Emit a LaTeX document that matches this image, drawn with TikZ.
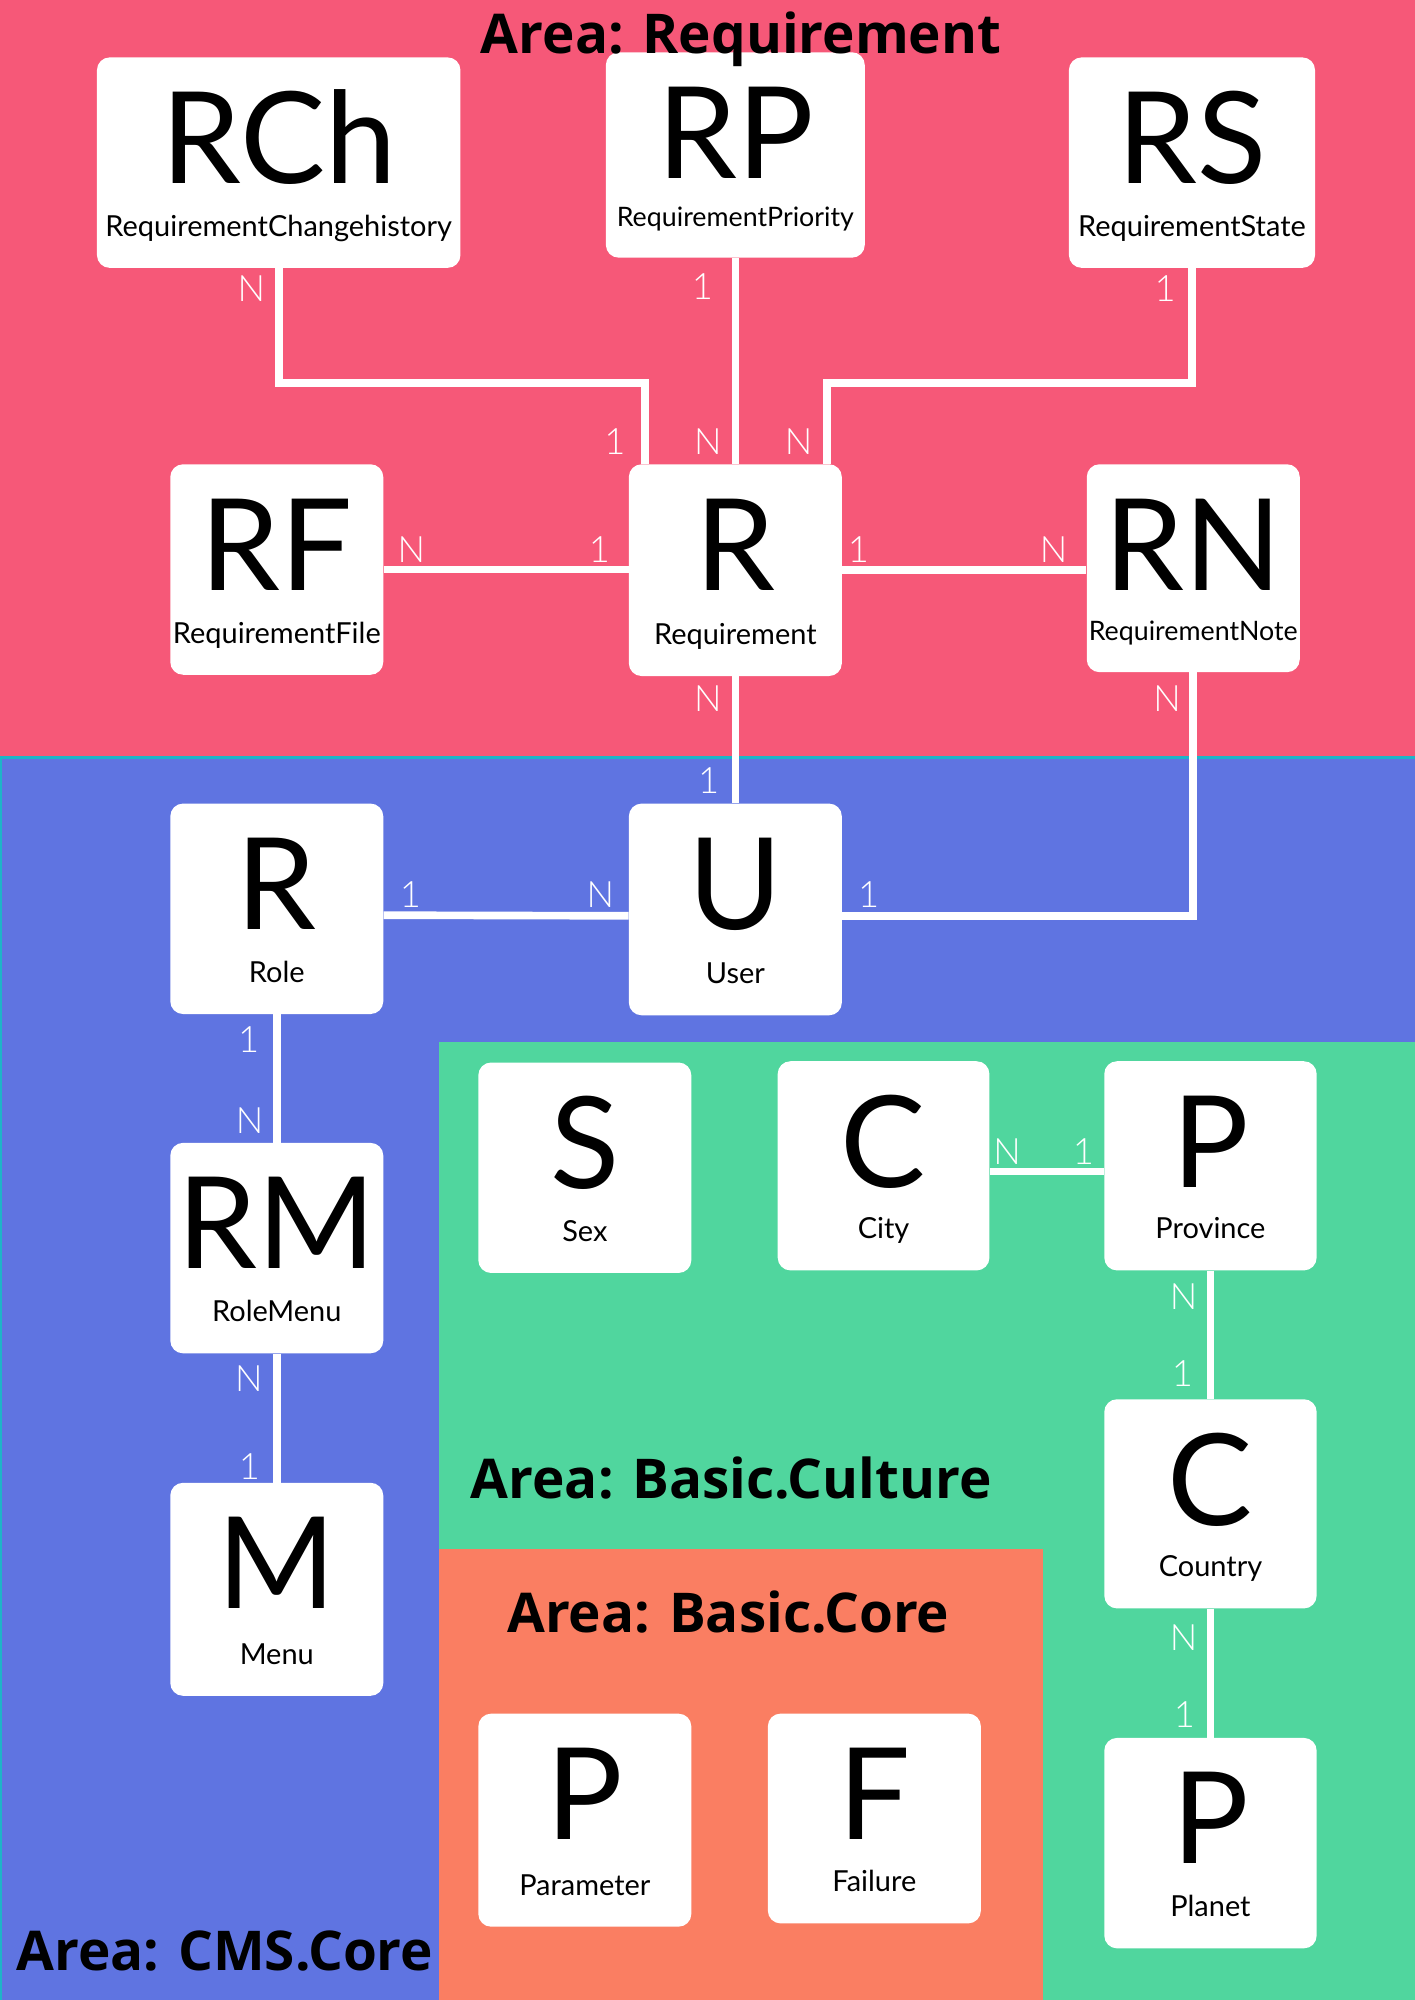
\documentclass[tikz,border=0pt]{standalone}
\usepackage{fontspec}
\setmainfont{Lato}
\newfontfamily\titlefont{Open Sans}
\IfFontExistsTF{Lato Light}{\newfontfamily\cardfont{Lato Light}}{\newfontfamily\cardfont{Lato}}
\definecolor{reqred}{HTML}{F65878}
\definecolor{cmsblue}{HTML}{5F74E1}
\definecolor{culturegreen}{HTML}{50D69E}
\definecolor{coreorange}{HTML}{FA7E62}
\definecolor{edgecyan}{HTML}{1EB4C8}
% entity box: [label size], name, x, y, width, height, short, long
\newcommand{\erbox}[8][22.7]{%
  \node[entity, minimum width=#5pt, minimum height=#6pt] (#2) at (#3,#4) {};
  \node[abbr] (#2-abbr) at ([yshift=-99pt]#2.north) {#7};
  \node[fullname, font=\fontsize{#1}{#1}\selectfont] (#2-name) at ([yshift=25pt]#2.south) {#8};}

\begin{document}
\begin{tikzpicture}[x=1pt, y=-1pt,
    entity/.style={rectangle, fill=white, rounded corners=10pt, inner sep=0pt},
    abbr/.style={anchor=base, inner sep=0pt, font=\fontsize{100}{100}\selectfont},
    fullname/.style={anchor=base, inner sep=0pt},
    conn/.style={draw=white, line width=6pt},
    card/.style={text=white, inner sep=0pt, font=\cardfont\fontsize{28.5}{28.5}\selectfont},
    area/.style={anchor=base, inner sep=0pt, font=\titlefont\bfseries\fontsize{43}{43}\selectfont}]
    \useasboundingbox (0,0) rectangle (1109,1568);
    %
    \fill[reqred] (0,0) rectangle (1109,594);
    \filldraw[fill=cmsblue, draw=edgecyan, line width=2pt] (0.5,594) rectangle (1112,1572);
    \fill[culturegreen] (344.4,817) rectangle (1109,1568);
    \fill[coreorange] (344.4,1214.5) rectangle (818,1568);
    %
    \erbox{rch}{218.5}{127.5}{285}{165}{RCh}{RequirementChangehistory}
    \erbox[21]{rp}{576.5}{121.5}{203}{161}{RP}{RequirementPriority}
    \erbox{rs}{934.5}{127.5}{193}{165}{RS}{RequirementState}
    \erbox{rf}{217}{446.5}{167}{165}{RF}{RequirementFile}
    \erbox{req}{576.5}{447}{167}{166}{R}{Requirement}
    \erbox[21]{rn}{935.5}{445.5}{167}{163}{RN}{RequirementNote}
    %
    \erbox{role}{217}{712.5}{167}{165}{R}{Role}
    \erbox{user}{576.5}{713}{167}{166}{U}{User}
    \erbox{rm}{217}{978.5}{167}{165}{RM}{RoleMenu}
    \erbox{menu}{217}{1246}{167}{167}{M}{Menu}
    %
    \erbox{sex}{458.5}{915.5}{167}{165}{S}{Sex}
    \erbox{city}{692.7}{914}{166}{164}{C}{City}
    \erbox{prov}{949}{914}{166.5}{164}{P}{Province}
    \erbox{country}{949}{1179}{166.5}{164}{C}{Country}
    \erbox{planet}{949}{1445}{166.5}{165}{P}{Planet}
    %
    \erbox{param}{458.5}{1427}{167}{167}{P}{Parameter}
    \erbox{failure}{685.5}{1425.7}{167}{164.5}{F}{Failure}
    %
    \coordinate (rch-bend) at (505.7,300.5);
    \coordinate (rs-bend) at (648.6,300.5);
    \draw[conn] (rch.south) |- (rch-bend) -- (rch-bend |- req.north);
    \draw[conn] (rp.south) -- (req.north);
    \draw[conn] (rs.south) |- (rs-bend) -- (rs-bend |- req.north);
    \draw[conn] (rf.east) -- (rf.east -| req.west);
    \draw[conn] (req.east) -- (req.east -| rn.west);
    \draw[conn] (req.south) -- (user.north);
    \draw[conn] (rn.south) |- ([yshift=-5pt]user.east);
    \draw[conn] ([yshift=-5pt]role.east) -- ([yshift=-5pt]user.west);
    \draw[conn] (role.south) -- (rm.north);
    \draw[conn] (rm.south) -- (menu.north);
    \draw[conn] ([yshift=-4.5pt]city.east) -- ([yshift=-4.5pt]prov.west);
    \draw[conn] (prov.south) -- (country.north);
    \draw[conn] (country.south) -- (planet.north);
    %
    \node[card] (rch-card) at (197,226) {N};
    \node[card] (rp-card) at (550.6,224.4) {1};
    \node[card] (rs-card) at (913.5,226) {1};
    \node[card] (req-card-a) at (482,346) {1};
    \node[card] (req-card-b) at (555,346) {N};
    \node[card] (req-card-c) at (626,346) {N};
    \node[card] (rf-card) at (322.5,431) {N};
    \node[card] (req-card-d) at (470,431) {1};
    \node[card] (req-card-e) at (673,431) {1};
    \node[card] (rn-card) at (826,431) {N};
    \node[card] (req-card-f) at (555,548) {N};
    \node[card] (user-card-a) at (555.6,612) {1};
    \node[card] (rn-card-b) at (915,548) {N};
    \node[card] (user-card-b) at (681,701) {1};
    \node[card] (role-card-a) at (321.8,701) {1};
    \node[card] (user-card-c) at (470.6,701) {N};
    \node[card] (role-card-b) at (195,815) {1};
    \node[card] (rm-card-a) at (195.6,878.5) {N};
    \node[card] (rm-card-b) at (195,1081) {N};
    \node[card] (menu-card) at (195.5,1150) {1};
    \node[card] (city-card) at (789.6,902.7) {N};
    \node[card] (prov-card-a) at (849.4,902.7) {1};
    \node[card] (prov-card-b) at (928,1016.6) {N};
    \node[card] (country-card-a) at (927,1077) {1};
    \node[card] (country-card-b) at (928,1283.7) {N};
    \node[card] (planet-card) at (928.6,1344) {1};
    %
    \node[area] (area-req) at (581,42) {Area: Requirement};
    \node[area, anchor=base west] (area-culture) at (369,1174.6) {Area: Basic.Culture};
    \node[area] (area-core) at (571,1280) {Area: Basic.Core};
    \node[area, anchor=base west] (area-cms) at (12.7,1544.7) {Area: CMS.Core};
\end{tikzpicture}
\end{document}
